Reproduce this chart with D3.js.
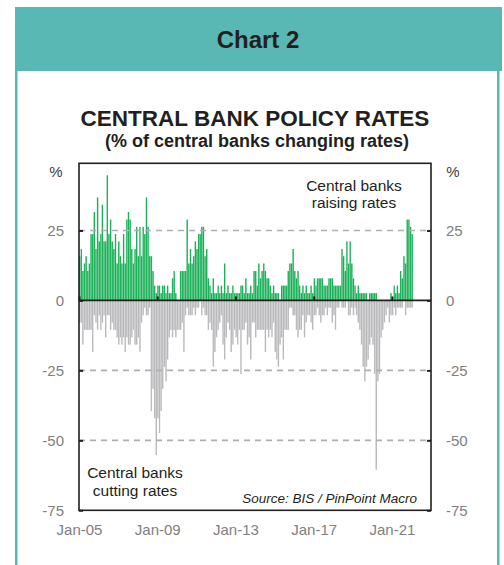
<!DOCTYPE html>
<html>
<head>
<meta charset="utf-8">
<script src="https://cdn.jsdelivr.net/npm/d3@7"></script>
<style>
  html, body { margin: 0; padding: 0; background: #fff; }
  svg { display: block; font-family: "Liberation Sans", Arial, Helvetica, sans-serif; }
</style>
</head>
<body>
<svg id="chart" width="504" height="565"></svg>
<script>
// Share of central banks raising / cutting policy rates, monthly from Jan 2005 (%)
const raising = [
  15.8,18.4,10.5,13.2,15.8,10.5,13.2,23.7,23.7,31.6,18.4,36.8,
  21.1,23.7,34.2,21.1,21.1,44.7,23.7,28.9,21.1,18.4,23.7,13.2,
  21.1,15.8,13.2,23.7,13.2,28.9,31.6,28.9,18.4,13.2,18.4,26.3,
  15.8,26.3,15.8,26.3,23.7,36.8,26.3,15.8,15.8,10.5,5.3,2.6,
  5.3,5.3,2.6,5.3,5.3,2.6,5.3,2.6,2.6,7.9,10.5,2.6,
  0,0,10.5,10.5,10.5,10.5,28.9,13.2,18.4,13.2,15.8,21.1,
  18.4,23.7,23.7,26.3,26.3,15.8,18.4,7.9,5.3,2.6,7.9,2.6,
  2.6,5.3,2.6,5.3,2.6,13.2,2.6,5.3,2.6,2.6,5.3,2.6,
  2.6,2.6,2.6,5.3,5.3,2.6,7.9,2.6,2.6,5.3,2.6,10.5,
  10.5,5.3,13.2,7.9,10.5,13.2,10.5,7.9,7.9,5.3,2.6,5.3,
  2.6,2.6,2.6,0,5.3,5.3,5.3,5.3,10.5,13.2,13.2,18.4,
  10.5,7.9,10.5,5.3,2.6,5.3,2.6,5.3,2.6,2.6,5.3,2.6,
  7.9,5.3,7.9,7.9,7.9,7.9,5.3,5.3,5.3,7.9,7.9,7.9,
  5.3,5.3,5.3,5.3,5.3,18.4,15.8,10.5,21.1,13.2,21.1,13.2,
  7.9,5.3,2.6,5.3,2.6,2.6,2.6,2.6,2.6,0,2.6,2.6,
  2.6,2.6,2.6,0,0,0,0,0,0,0,0,2.6,
  0,5.3,2.6,5.3,2.6,10.5,7.9,15.8,13.2,28.9,28.9,26.3,
  23.7
];
const cutting = [
  -7.9,-7.9,-15.8,-10.5,-10.5,-10.5,-10.5,-10.5,-18.4,-5.3,-7.9,-10.5,
  -5.3,-10.5,-7.9,-5.3,-13.2,-5.3,-5.3,-10.5,-7.9,-10.5,-10.5,-13.2,
  -15.8,-13.2,-15.8,-13.2,-18.4,-13.2,-15.8,-15.8,-13.2,-10.5,-15.8,-15.8,
  -13.2,-18.4,-7.9,-5.3,-2.6,-5.3,-5.3,-2.6,-39.5,-31.6,-42.1,-55.3,
  -42.1,-47.4,-39.5,-31.6,-23.7,-28.9,-21.1,-13.2,-10.5,-13.2,-10.5,-13.2,
  -10.5,-10.5,-10.5,-7.9,-18.4,-5.3,-2.6,-5.3,-5.3,-5.3,-2.6,-5.3,
  -2.6,-2.6,0,-5.3,-2.6,-5.3,-5.3,-10.5,-7.9,-10.5,-23.7,-18.4,
  -13.2,-10.5,-7.9,-5.3,-15.8,-21.1,-13.2,-7.9,-10.5,-18.4,-15.8,-10.5,
  -13.2,-15.8,-10.5,-26.3,-10.5,-10.5,-7.9,-15.8,-13.2,-21.1,-7.9,-7.9,
  -13.2,-10.5,-10.5,-10.5,-10.5,-10.5,-18.4,-10.5,-13.2,-10.5,-13.2,-7.9,
  -18.4,-21.1,-23.7,-15.8,-13.2,-21.1,-10.5,-10.5,-10.5,-2.6,-2.6,-5.3,
  -5.3,-10.5,-13.2,-10.5,-10.5,-5.3,-13.2,-7.9,-5.3,-5.3,-7.9,-10.5,
  -5.3,-5.3,-2.6,-5.3,-7.9,-5.3,-5.3,-2.6,-5.3,-2.6,-2.6,-7.9,
  -5.3,-10.5,-2.6,-2.6,0,-2.6,-2.6,-2.6,0,-5.3,-5.3,-2.6,
  -5.3,-2.6,-5.3,-7.9,-10.5,-15.8,-23.7,-28.9,-23.7,-21.1,-15.8,-13.2,
  -15.8,-26.3,-60.5,-28.9,-26.3,-13.2,-10.5,-7.9,-5.3,-2.6,-7.9,-5.3,
  -5.3,-2.6,-5.3,-2.6,-2.6,-2.6,-2.6,0,-5.3,-2.6,-2.6,-2.6,
  -2.6
];
const xTickLabels = ["Jan-05", "Jan-09", "Jan-13", "Jan-17", "Jan-21"];
const yTickValues = [25, 0, -25, -50, -75];
const gridValues = [25, -25, -50];

const months = d3.timeMonth.range(new Date(2005, 0, 1), new Date(2005, raising.length, 1));
const parseTick = d3.timeParse("%b-%y");
const xTickDates = xTickLabels.map(parseTick);

const svg = d3.select("#chart");
const teal = "#5ab8b4";

// Panel: teal header band and side borders
svg.append("rect").attr("x", 15).attr("y", 7).attr("width", 487).attr("height", 64).attr("fill", teal);
svg.append("rect").attr("x", 15).attr("y", 70).attr("width", 2.5).attr("height", 500).attr("fill", teal);
svg.append("rect").attr("x", 497).attr("y", 70).attr("width", 2.5).attr("height", 500).attr("fill", teal);

svg.append("text").attr("x", 258).attr("y", 48).attr("text-anchor", "middle")
  .attr("font-size", 24).attr("font-weight", "bold").attr("fill", "#231f20").text("Chart 2");

svg.append("text").attr("x", 255).attr("y", 126).attr("text-anchor", "middle")
  .attr("font-size", 22.5).attr("font-weight", "bold").attr("fill", "#231f20")
  .text("CENTRAL BANK POLICY RATES");
svg.append("text").attr("x", 257).attr("y", 147).attr("text-anchor", "middle")
  .attr("font-size", 18).attr("font-weight", "bold").attr("fill", "#231f20")
  .text("(% of central banks changing rates)");

// Plot area
const plot = { left: 79, right: 431, top: 163.3, bottom: 510.3 };
const x = d3.scaleTime()
  .domain([new Date(2005, 0, 1), new Date(2023, 0, 1)])
  .range([plot.left, plot.right]);
const y = d3.scaleLinear().domain([-75, 49]).range([plot.bottom, plot.top]);

const barW = d => (x(d3.timeMonth.offset(d, 1)) - x(d)) * 0.86;

const g = svg.append("g");

g.selectAll("rect.cut").data(cutting).join("rect")
  .attr("class", "cut")
  .attr("x", (d, i) => x(months[i]))
  .attr("width", (d, i) => barW(months[i]))
  .attr("y", y(0))
  .attr("height", d => y(d) - y(0))
  .attr("fill", "#bababd");

g.selectAll("rect.raise").data(raising).join("rect")
  .attr("class", "raise")
  .attr("x", (d, i) => x(months[i]))
  .attr("width", (d, i) => barW(months[i]))
  .attr("y", d => y(d))
  .attr("height", d => y(0) - y(d))
  .attr("fill", "#1cb158");

// Dashed reference lines
g.selectAll("line.grid").data(gridValues).join("line")
  .attr("class", "grid")
  .attr("x1", plot.left).attr("x2", plot.right)
  .attr("y1", d => y(d)).attr("y2", d => y(d))
  .attr("stroke", "#aeaeb0").attr("stroke-width", 1.6)
  .attr("stroke-dasharray", "6,5");

// Zero line
g.append("line")
  .attr("x1", plot.left).attr("x2", plot.right)
  .attr("y1", y(0)).attr("y2", y(0))
  .attr("stroke", "#231f20").attr("stroke-width", 1.6);

// Frame
g.append("rect")
  .attr("x", plot.left).attr("y", plot.top)
  .attr("width", plot.right - plot.left).attr("height", plot.bottom - plot.top)
  .attr("fill", "none").attr("stroke", "#231f20").attr("stroke-width", 1.6);

// Y axes on both sides, ticks pointing inward; plain hyphen for negatives
const yLabel = d => String(d);
function styleAxis(sel) {
  sel.select(".domain").remove();
  sel.selectAll(".tick line").attr("stroke", "#231f20").attr("stroke-width", 2);
  sel.selectAll(".tick text").attr("fill", "#808080").attr("font-size", 15)
    .attr("font-family", "\"Liberation Sans\", Arial, sans-serif");
}
svg.append("g").attr("transform", `translate(${plot.left},0)`)
  .call(d3.axisLeft(y).tickValues(yTickValues).tickFormat(yLabel)
    .tickSizeInner(-4).tickSizeOuter(0).tickPadding(15))
  .call(styleAxis);
svg.append("g").attr("transform", `translate(${plot.right},0)`)
  .call(d3.axisRight(y).tickValues(yTickValues).tickFormat(yLabel)
    .tickSizeInner(-4).tickSizeOuter(0).tickPadding(15))
  .call(styleAxis);

// Year tick marks on the zero line
svg.append("g").attr("transform", `translate(0,${y(0)})`)
  .call(d3.axisBottom(x).tickValues(xTickDates).tickSizeInner(-4).tickSizeOuter(0).tickFormat(""))
  .call(sel => {
    sel.select(".domain").remove();
    sel.selectAll(".tick line").attr("stroke", "#231f20").attr("stroke-width", 2);
  });

// Date labels under the frame
svg.append("g").attr("transform", `translate(0,${plot.bottom})`)
  .call(d3.axisBottom(x).tickValues(xTickDates).tickSize(0).tickPadding(14)
    .tickFormat((d, i) => xTickLabels[i]))
  .call(sel => {
    sel.select(".domain").remove();
    sel.selectAll(".tick text").attr("fill", "#808080").attr("font-size", 15)
      .attr("font-family", "\"Liberation Sans\", Arial, sans-serif");
  });

// Unit labels
svg.append("text").attr("x", 56).attr("y", 177).attr("text-anchor", "middle")
  .attr("font-size", 15).attr("fill", "#404040").text("%");
svg.append("text").attr("x", 453).attr("y", 177).attr("text-anchor", "middle")
  .attr("font-size", 15).attr("fill", "#404040").text("%");

// Annotations
const raiseNote = svg.append("text").attr("text-anchor", "middle")
  .attr("font-size", 15.5).attr("fill", "#231f20");
raiseNote.append("tspan").attr("x", 354).attr("y", 191).text("Central banks");
raiseNote.append("tspan").attr("x", 354).attr("y", 208).text("raising rates");

const cutNote = svg.append("text").attr("text-anchor", "middle")
  .attr("font-size", 15.5).attr("fill", "#231f20");
cutNote.append("tspan").attr("x", 135).attr("y", 478).text("Central banks");
cutNote.append("tspan").attr("x", 135).attr("y", 496).text("cutting rates");

svg.append("text").attr("x", 417).attr("y", 503).attr("text-anchor", "end")
  .attr("font-size", 13.5).attr("font-style", "italic").attr("fill", "#231f20")
  .text("Source: BIS / PinPoint Macro");
</script>
</body>
</html>
